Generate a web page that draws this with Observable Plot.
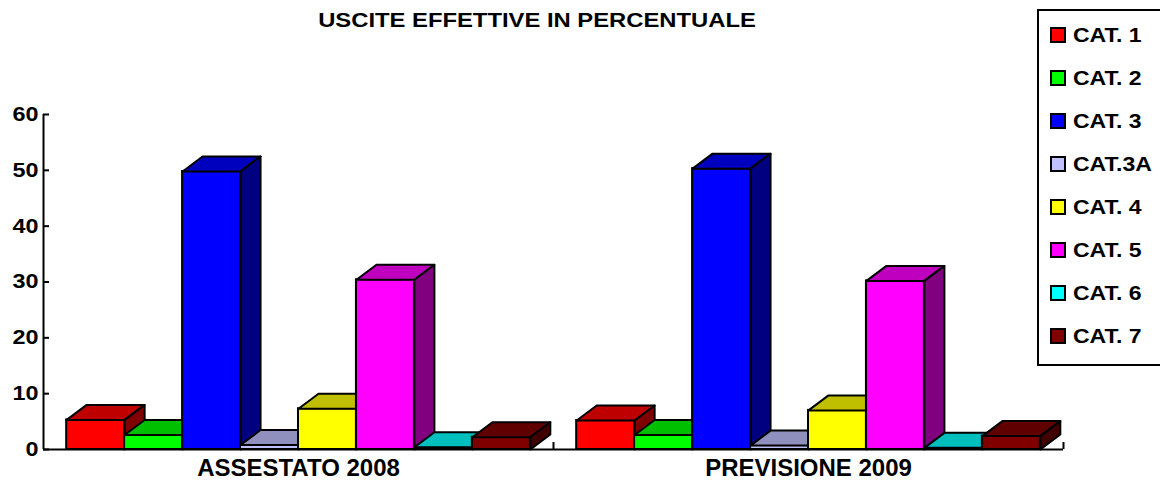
<!DOCTYPE html>
<html>
<head>
<meta charset="utf-8">
<script src="https://cdn.jsdelivr.net/npm/d3@7"></script>
<script src="https://cdn.jsdelivr.net/npm/@observablehq/plot@0.6"></script>
<style>
  html, body { margin: 0; padding: 0; background: #fff; }
  body { font-family: "Liberation Sans", Arial, sans-serif; color: #000; }
  #wrap { position: relative; width: 1160px; height: 480px; overflow: hidden; }
  #title { position: absolute; left: 537px; top: 10px; font-size: 20px; font-weight: bold; line-height: 20px;
           white-space: nowrap; transform: translateX(-50%) scaleX(1.19); }
  #legend { position: absolute; left: 1037px; top: 9px; width: 150px; height: 357px; box-sizing: border-box;
            border: 2px solid #000; background: #fff; }
  .item { position: absolute; left: 0; height: 20px; white-space: nowrap; }
  .sw { position: absolute; left: 11px; top: 2px; width: 16px; height: 16px; box-sizing: border-box; border: 2px solid #000; }
  .lbl { position: absolute; left: 34px; top: 0; font-size: 20px; font-weight: bold; line-height: 20px;
         transform: scaleX(1.15); transform-origin: left center; }
  #chart { position: absolute; left: 0; top: 0; }
</style>
</head>
<body>
<div id="wrap">
  <div id="chart"></div>
  <div id="title"></div>
  <div id="legend"></div>
</div>
<script>
// ---------- data ----------
const chartTitle = "USCITE EFFETTIVE IN PERCENTUALE";
const groups = ["ASSESTATO 2008", "PREVISIONE 2009"];
const categories = ["CAT. 1", "CAT. 2", "CAT. 3", "CAT.3A", "CAT. 4", "CAT. 5", "CAT. 6", "CAT. 7"];
const assestato2008 = [5.3, 2.6, 49.8, 0.8, 7.3, 30.4, 0.4, 2.2];
const previsione2009 = [5.2, 2.6, 50.3, 0.7, 7.0, 30.2, 0.3, 2.4];
const yTicks = [0, 10, 20, 30, 40, 50, 60];
const palette = ["#FF0000", "#00FF00", "#0000FF", "#C0C0FF", "#FFFF00", "#FF00FF", "#00FFFF", "#800000"];

// ---------- layout ----------
const W = 1160, H = 480;
const mL = 43, mR = 97, mT = 114, mB = 31;
const PAD = 0.4, GROUPW = 8.8, XMAX = GROUPW * groups.length;
const pxX = (W - mL - mR) / XMAX;
const pxY = (H - mT - mB) / 60;
const depthX = 20 / pxX, depthY = 15 / pxY;

function shade(hex, k) {
  const c = d3.rgb(hex);
  return d3.rgb(c.r * k, c.g * k, c.b * k).formatHex();
}

const series = [assestato2008, previsione2009];
const rows = [];
groups.forEach((g, gi) => {
  categories.forEach((c, ci) => {
    const x1 = gi * GROUPW + PAD + ci;
    rows.push({group: g, cat: c, v: series[gi][ci], x1, x2: x1 + 1, color: palette[ci]});
  });
});

const marks = [];
rows.forEach(r => {
  const top = [[r.x1, r.v], [r.x2, r.v], [r.x2 + depthX, r.v + depthY], [r.x1 + depthX, r.v + depthY], [r.x1, r.v]];
  const side = [[r.x2, 0], [r.x2 + depthX, depthY], [r.x2 + depthX, r.v + depthY], [r.x2, r.v], [r.x2, 0]];
  marks.push(Plot.rect([r], {x1: "x1", x2: "x2", y1: () => 0, y2: "v", fill: r.color, stroke: "#000", strokeWidth: 2}));
  marks.push(Plot.line(top, {x: d => d[0], y: d => d[1], fill: shade(r.color, 0.75), stroke: "#000", strokeWidth: 2, strokeLinejoin: "round"}));
  marks.push(Plot.line(side, {x: d => d[0], y: d => d[1], fill: shade(r.color, 0.5), stroke: "#000", strokeWidth: 2, strokeLinejoin: "round"}));
});

// axes lines and ticks
marks.push(Plot.ruleY([0], {stroke: "#000", strokeWidth: 2}));
marks.push(Plot.ruleX([0], {stroke: "#000", strokeWidth: 2}));
marks.push(Plot.ruleY(yTicks, {x1: () => 0, x2: () => 6 / pxX, stroke: "#000", strokeWidth: 2}));
marks.push(Plot.ruleX(groups.map((g, i) => (i + 1) * GROUPW), {x: d => d, y1: () => 0, y2: () => 7 / pxY, stroke: "#000", strokeWidth: 2}));
marks.push(Plot.text(groups.map((g, i) => ({name: g, cx: i * GROUPW + GROUPW / 2})),
  {x: "cx", y: () => 0, text: "name", dy: 19, fontSize: 24, fontWeight: "bold", lineAnchor: "middle", fill: "#000"}));

const chart = Plot.plot({
  width: W, height: H,
  marginLeft: mL, marginRight: mR, marginTop: mT, marginBottom: mB,
  style: {fontFamily: "'Liberation Sans', Arial, sans-serif", fontSize: "20px", fontWeight: "bold", color: "#000", background: "#fff", overflow: "visible"},
  x: {type: "linear", domain: [0, XMAX], axis: null},
  y: {domain: [0, 60], ticks: yTicks, tickSize: 0, tickPadding: 5, label: null, tickFormat: d => String(d)},
  marks
});
document.getElementById("chart").append(chart);

// horizontally widen tick labels like the original rendering
chart.querySelectorAll("text").forEach(t => {
  if (/^\d+$/.test(t.textContent.trim())) {
    const len = t.getComputedTextLength();
    t.setAttribute("textLength", (len * 1.17).toFixed(1));
    t.setAttribute("lengthAdjust", "spacingAndGlyphs");
  }
});

// title
document.getElementById("title").textContent = chartTitle;

// legend
const legend = document.getElementById("legend");
const legendTop = 9, border = 2, rowStart = 35, rowStep = 43;
categories.forEach((c, i) => {
  const item = document.createElement("div");
  item.className = "item";
  item.style.top = (rowStart + rowStep * i - legendTop - border - 10) + "px";
  const sw = document.createElement("span");
  sw.className = "sw";
  sw.style.background = palette[i];
  const lbl = document.createElement("span");
  lbl.className = "lbl";
  lbl.textContent = c;
  item.append(sw, lbl);
  legend.append(item);
});
</script>
</body>
</html>
